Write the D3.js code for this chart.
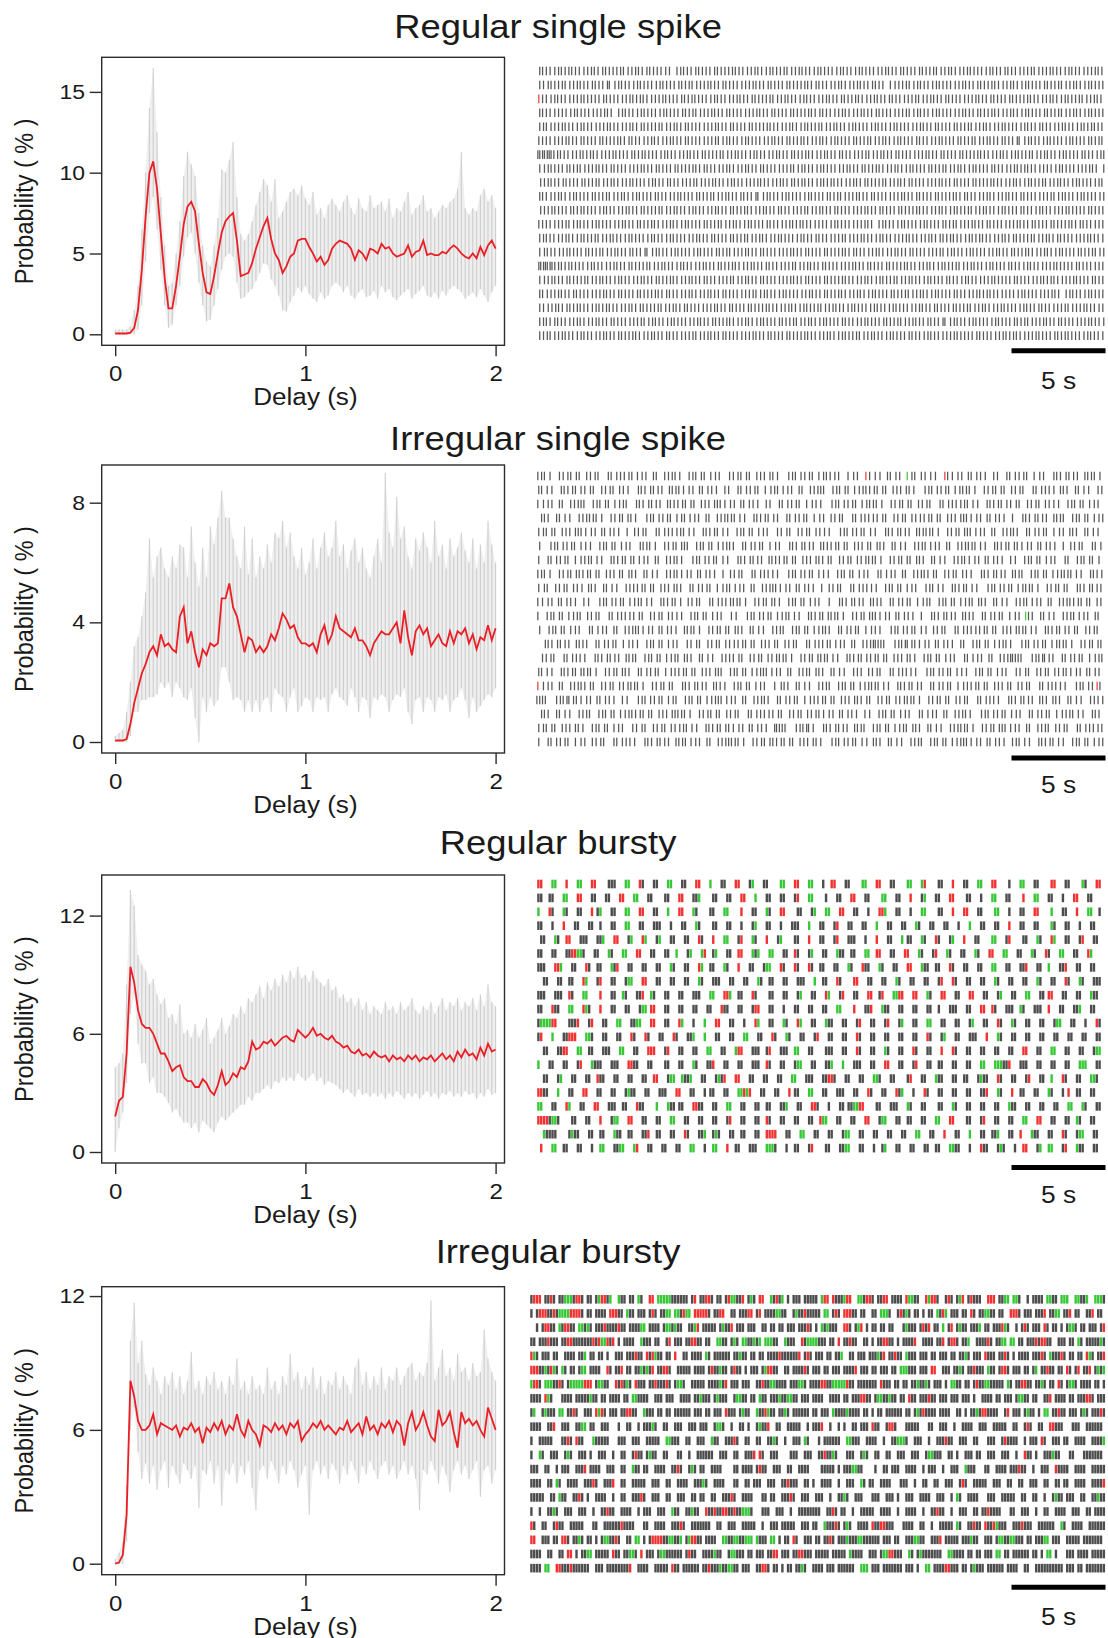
<!DOCTYPE html>
<html>
<head>
<meta charset="utf-8">
<script src="https://cdnjs.cloudflare.com/ajax/libs/d3/7.8.5/d3.min.js"></script>
<style>
  body { margin: 0; background: #fff; }
  svg text { font-family: "Liberation Sans", Arial, sans-serif; fill: #1a1a1a; }
</style>
</head>
<body>
<script>
// ---------------- data ----------------
var titles = ["Regular single spike", "Irregular single spike", "Regular bursty", "Irregular bursty"];
var delayStep = 0.02;              // s between histogram points (0 .. 2 s)
var xTickValues = [0, 1, 2];
var yTickValues = [[0, 5, 10, 15], [0, 4, 8], [0, 6, 12], [0, 6, 12]];

// mean autocorrelogram (red), %
var meanRegSingle = [
  0.05,0.05,0.05,0.05,0.1,0.4,1.5,4.0,7.3,10.0,
  10.7,9.0,6.2,3.5,1.6,1.6,3.0,4.8,6.8,7.9,
  8.2,7.6,5.6,3.8,2.6,2.5,3.6,5.0,6.3,7.0,
  7.3,7.5,5.8,3.6,3.7,3.8,4.4,5.3,6.0,6.7,
  7.2,5.9,5.0,4.6,3.8,4.2,4.8,5.0,5.8,5.9,
  5.9,5.4,5.0,4.5,4.8,4.3,4.6,5.3,5.6,5.8,
  5.7,5.6,5.3,4.6,5.2,5.0,4.6,5.3,5.2,5.0,
  5.6,5.3,5.4,5.0,4.8,4.9,5.0,5.5,4.8,5.1,
  5.2,5.8,4.9,5.0,4.9,4.9,5.1,5.0,5.3,5.5,
  5.3,5.0,4.8,4.7,5.0,4.7,5.4,4.9,5.5,5.8,
  5.3];
var meanIrrSingle = [
  0.05,0.05,0.05,0.1,0.6,1.3,1.8,2.3,2.6,3.0,
  3.2,2.9,3.6,3.2,3.3,3.1,3.0,4.2,4.5,3.3,
  3.7,3.0,2.5,3.1,2.9,3.3,3.2,3.3,4.8,4.8,
  5.3,4.5,4.2,3.6,3.0,3.5,3.4,3.0,3.2,3.0,
  3.2,3.6,3.4,3.8,4.3,4.1,3.8,3.9,3.5,3.3,
  3.3,3.2,3.3,3.0,3.6,3.9,3.3,3.6,4.2,3.8,
  3.7,3.6,3.5,3.8,3.4,3.4,3.2,2.9,3.3,3.5,
  3.7,3.6,3.6,3.8,4.0,3.3,4.4,3.5,2.9,3.7,
  3.9,3.6,3.8,3.2,3.4,3.6,3.3,3.2,3.7,3.3,
  3.7,3.6,3.8,3.3,3.6,3.1,3.5,3.4,3.9,3.4,
  3.8];
var meanRegBursty = [
  1.8,2.6,2.8,5.0,9.4,8.6,7.2,6.5,6.3,6.3,
  6.0,5.5,5.0,5.0,4.6,4.1,4.3,4.4,3.8,3.6,
  3.6,3.3,3.3,3.7,3.5,3.1,2.9,3.4,4.1,3.4,
  3.6,4.0,3.8,4.3,4.2,4.6,5.6,5.2,5.3,5.6,
  5.5,5.7,5.4,5.6,5.8,5.9,5.7,5.6,6.2,6.0,
  5.8,6.0,6.3,5.9,6.0,5.8,5.7,5.9,5.6,5.5,
  5.3,5.4,5.1,5.0,5.2,4.9,5.0,4.8,5.1,4.9,
  4.8,4.9,4.6,4.9,4.7,4.8,4.6,4.9,4.7,4.9,
  4.6,4.8,4.7,4.9,4.6,4.8,5.0,4.7,4.9,4.6,
  5.1,4.8,5.2,4.9,5.0,4.7,5.3,4.9,5.5,5.1,
  5.2];
var meanIrrBursty = [
  0.0,0.05,0.4,2.2,8.2,7.5,6.4,6.0,6.0,6.2,
  6.7,5.8,6.3,6.2,6.1,6.0,6.2,5.7,6.1,6.0,
  6.3,5.9,6.1,5.4,6.1,5.9,6.3,6.0,6.4,5.8,
  6.2,6.0,6.7,6.0,5.7,6.4,6.0,5.8,5.3,6.2,
  6.1,5.9,6.3,6.0,6.2,5.8,6.3,6.1,6.4,5.5,
  5.8,6.0,6.3,6.1,6.4,6.0,6.2,6.0,5.8,6.1,
  6.0,6.4,5.9,6.1,6.3,5.8,6.6,6.0,6.2,5.8,
  6.3,6.1,6.4,5.9,6.4,6.2,5.3,6.3,6.8,6.0,
  6.3,6.8,6.2,5.7,5.5,6.9,6.2,6.4,6.8,5.9,
  5.2,6.8,6.3,6.5,6.2,6.4,6.0,5.7,7.0,6.5,
  6.0];

// spread of single-cell curves (grey), upper and lower edge, %
var hiRegSingle = [
  0.3,0.3,0.3,0.3,0.5,1.5,3.0,6.5,10.0,14.0,
  16.5,12.5,8.5,5.5,3.0,3.2,5.0,7.0,9.8,11.3,
  10.5,9.8,7.5,5.5,4.5,4.2,5.5,7.2,10.2,10.0,
  10.8,11.9,8.5,6.2,5.8,6.2,7.0,8.0,8.8,9.6,
  9.2,8.2,9.6,7.2,7.6,8.2,8.8,9.0,8.6,9.2,
  8.4,8.0,8.8,7.4,7.8,7.2,8.0,8.4,8.0,7.6,
  8.2,8.6,7.8,7.4,8.4,7.8,7.6,8.6,7.8,8.0,
  8.2,7.6,8.4,7.2,7.8,7.6,8.2,8.8,7.4,7.8,
  8.0,8.6,7.6,7.8,7.2,7.6,8.0,7.8,8.2,8.4,
  9.0,11.3,7.8,7.4,7.8,7.6,8.6,9.0,8.2,8.6,
  7.8];
var loRegSingle = [
  0,0,0,0,0,0,0.3,1.8,4.5,7.5,
  8.5,6.5,4.0,1.8,0.4,0.6,1.8,3.0,4.8,6.0,
  6.3,5.0,3.2,1.8,0.8,0.9,1.8,2.8,4.0,4.8,
  5.0,4.8,3.2,2.2,2.3,2.6,2.8,3.3,3.8,4.4,
  4.3,3.4,3.0,2.4,1.5,1.4,2.0,2.4,2.9,2.6,
  3.0,2.5,2.2,2.0,2.6,2.2,2.4,3.0,3.2,3.0,
  2.6,3.0,2.4,2.2,2.6,2.8,2.3,2.4,2.7,2.2,
  3.0,2.6,2.8,2.3,2.1,2.4,2.6,2.8,2.2,2.5,
  2.7,3.0,2.4,2.3,2.6,2.2,2.7,2.4,2.8,3.0,
  2.8,2.6,2.2,2.4,2.6,2.3,2.8,2.4,2.0,2.6,
  3.0];
var hiIrrSingle = [
  0.2,0.3,0.4,1.0,2.0,3.2,3.5,4.2,5.0,6.8,
  5.5,6.2,6.5,5.8,5.5,6.2,5.8,6.6,6.5,5.5,
  7.2,6.0,5.2,6.5,5.5,7.2,6.6,7.5,8.4,7.5,
  7.5,6.8,6.2,5.8,7.2,5.6,6.8,5.5,6.2,5.8,
  6.6,6.0,7.0,6.8,7.4,6.5,7.0,6.2,5.8,6.5,
  5.6,6.0,6.8,5.8,6.5,7.0,6.2,6.5,7.4,6.2,
  6.6,5.8,6.4,6.8,6.0,6.5,5.8,5.5,6.2,6.8,
  6.0,9.0,7.0,6.5,8.2,6.8,7.2,6.2,5.8,6.8,
  6.4,7.0,6.5,6.0,7.4,6.2,6.6,5.8,6.8,6.2,
  6.5,7.0,6.4,6.0,6.8,5.8,6.6,6.0,7.4,6.6,
  6.0];
var loIrrSingle = [
  0,0,0,0,0.2,1.0,1.0,1.4,1.4,1.5,
  1.5,1.6,2.0,1.8,2.0,1.5,2.0,1.8,1.5,1.4,
  1.8,0.8,0.0,1.5,1.0,1.5,1.2,1.4,2.5,2.5,
  2.0,1.4,1.5,1.4,1.0,1.4,1.0,1.4,1.0,1.4,
  1.5,1.0,1.8,1.6,1.5,1.0,1.5,1.8,1.0,1.2,
  1.5,1.4,1.0,1.5,1.4,1.5,1.0,1.6,1.8,1.5,
  1.4,1.2,1.8,1.5,1.0,1.5,1.4,0.8,1.5,1.4,
  1.6,1.5,1.0,1.4,1.6,1.5,1.8,1.0,0.6,1.4,
  1.5,1.0,1.5,1.4,1.0,1.5,1.4,1.6,1.0,1.4,
  1.5,1.8,1.4,0.8,1.5,1.0,1.2,1.4,1.6,1.5,
  1.8];
var hiRegBursty = [
  4.3,4.5,5.0,8.5,13.3,12.5,10.0,9.5,9.2,8.5,
  8.8,8.0,7.5,7.8,6.8,7.0,6.5,7.5,6.0,6.2,
  5.8,6.5,5.8,6.2,6.8,5.5,5.8,6.2,6.8,6.0,
  6.4,7.0,6.8,7.4,7.0,7.8,7.6,8.0,8.4,7.8,
  8.6,8.2,8.8,8.4,9.0,8.6,9.2,8.8,9.4,8.8,
  9.0,8.6,9.2,8.8,8.6,8.4,8.8,8.2,8.4,7.8,
  8.0,7.6,7.8,7.4,7.8,7.2,7.6,7.0,7.4,7.2,
  7.0,7.6,7.2,7.4,7.0,7.6,7.2,7.4,7.8,7.2,
  7.0,7.4,7.2,7.6,7.0,7.4,7.8,7.2,7.6,7.4,
  7.8,7.2,7.6,7.4,7.8,7.2,8.0,7.4,8.5,7.6,
  7.4];
var loRegBursty = [
  0,1.2,2.0,3.5,7.0,8.0,5.5,4.5,4.5,3.5,
  3.8,3.0,3.0,2.8,2.5,2.0,2.2,1.8,1.5,1.5,
  1.2,1.5,1.0,1.6,1.4,1.2,1.0,1.5,1.8,1.6,
  1.8,2.0,2.2,2.4,2.4,2.8,2.6,3.0,3.0,3.2,
  3.4,3.2,3.6,3.5,3.8,3.6,3.8,3.6,4.0,3.8,
  3.6,3.8,4.0,3.6,3.8,3.4,3.6,3.5,3.4,3.2,
  3.0,3.2,3.0,2.8,3.2,2.9,3.0,2.8,3.0,2.8,
  3.0,2.7,3.0,2.8,3.1,2.9,2.7,3.0,2.8,3.0,
  2.7,2.9,3.1,2.8,3.0,2.7,3.0,2.9,3.1,2.8,
  3.0,2.8,3.1,2.9,3.0,2.7,3.0,2.8,3.2,2.9,
  3.0];
var hiIrrBursty = [
  0.2,0.5,1.0,3.5,10.0,11.7,9.0,10.0,8.5,8.0,
  8.8,8.2,7.6,8.4,8.0,8.6,7.8,8.4,7.6,8.2,
  9.5,7.8,8.2,7.6,8.4,8.0,8.6,7.8,8.2,7.6,
  8.4,8.0,9.2,7.8,8.2,7.6,8.4,7.8,8.0,7.6,
  8.8,7.8,8.2,7.6,8.4,8.0,9.4,8.2,8.6,7.8,
  8.4,8.0,8.8,7.8,8.4,7.6,8.2,8.0,8.6,7.8,
  8.4,8.0,7.6,8.8,9.2,8.0,8.6,7.8,8.4,8.0,
  8.8,7.8,8.4,8.2,8.8,8.0,8.4,8.8,9.0,8.2,
  8.6,8.4,9.0,11.8,8.2,8.8,9.6,8.4,8.8,8.2,
  9.4,8.6,8.8,8.2,9.0,8.4,8.6,10.5,9.2,8.6,
  8.2];
var loIrrBursty = [
  0,0,0,1.0,6.0,7.0,5.0,3.8,4.5,3.6,
  4.4,3.3,4.2,4.6,3.4,4.4,4.0,3.6,4.5,4.2,
  3.8,4.4,2.5,4.2,4.0,4.6,3.6,4.4,2.6,4.2,
  4.0,4.5,3.6,4.4,4.0,4.6,3.4,2.4,4.2,4.4,
  3.8,4.6,4.2,3.6,4.4,4.0,4.6,4.2,3.4,4.0,
  4.4,2.2,4.2,4.6,4.0,4.4,3.8,4.5,4.2,3.6,
  4.4,4.0,4.6,4.2,3.6,4.4,4.0,4.6,4.2,3.8,
  4.4,4.6,4.0,4.4,3.8,4.2,4.6,4.0,4.4,3.8,
  2.4,4.2,4.0,4.6,4.2,3.6,4.4,4.0,3.2,4.2,
  4.6,4.0,4.4,3.8,4.2,4.6,3.0,4.2,4.4,3.6,
  4.2];

// rasters of single spikes: inter-spike intervals in hex digits of 0.05 s; r / g colours the spike before it
var isiUnit = 0.05;
var rasterRegSingle = [
  "4344543443 4454434534 4443544345 3444548434 4534445344 4434454434 5434443544 3445434445 4344543444 5443445344 4534443544 3454434445 4344534454 4435444344 5434454443 4454434534",
  "4453444354 4344534452 6434454344 4543444534 4354443445 3444544434 4534445344 4434534454 4345443445 3448544435 4344543444 5443445344 4345443454 3444534443 5443454344 4534454434",
  "3r445434454 4434444534 4454434434 5444344453 4434445434 4544344534 4443544344 5434454434 4534443454 4344534454 4435443445 3444544434 4534445344 4434454434 5434443544 3445434445",
  "4344544454 3444544434 8434454344 4543444534 4354443445 3444544434 4534445344 4434534454 4345443445 3444544435 4344543444 5443445344 4345443454 3444534443 5443454344 4534454434",
  "4435444344 5434454443 4454434534 4443544345 3444544434 4534445344 4434454434 5434443544 3445434445 4344543444 5443445344 4534443544 3454434445 4344534454 4344543443 4454434534",
  "3444544434 4534445344 4434534454 4345443445 3444544435 4344543444 5443445344 4345443454 3444534443 5443454344 4534454434 4453444354 4344534452 6434454344 4543444534 4354443445",
  "2232322343 4454434434 5444344453 4434445434 4544344534 4443544344 5434454434 4534443454 4344534454 4435443445 3444544434 4534445344 4434454434 5434443544 3445434445 3445434454",
  "4543444534 4354443445 3444544434 4534445344 4434534454 4345443445 3444544435 4344543444 5443445344 4345443454 3444534443 5443454344 4534454434 4344544454 3444544434 8434454344",
  "5443445344 4534443544 3454434445 4344534454 4435444344 5434454443 4454434534 4344543443 4454434534 4443544345 3444544434 4534445344 4434454434 5434443544 3445434445 4344543444",
  "4345443454 3444534443 5443454344 4534454434 4453444354 4344534452 6434454344 4543444534 4354443445 3444544434 4534445344 4434534454 4345443445 3444544435 4344543444 5443445344",
  "5444344453 4434445434 4544344534 4443544344 5434454434 4534443454 4344534454 4435443445 3444544434 4534445344 4434454434 5434443544 3445434445 3445434454 4434444534 4454434434",
  "3444544435 4344543444 5443445344 4345443454 3444534443 5443454344 4534454434 4344544454 3444544434 8434454344 4543444534 4354443445 3444544434 4534445344 4434534454 4345443445",
  "4434454434 5434443544 3445434445 4344543444 5443445344 4534443544 3454434445 4344534454 4435444344 5434454443 4454434534 4344543443 4454434534 4443544345 3444544434 4534445344",
  "4534454434 4453444354 4344534452 6434454344 4543444534 4354443445 3444544434 4534445344 4434534454 4345443445 3444544435 4344543444 5443445344 4345443454 3444534443 5443454344",
  "3232232343 4434445434 4544344534 4443544344 5434454434 4534443454 4344534454 4435443445 3444544434 4534445344 4434454434 5434443544 3445434445 3445434454 4434444534 4454434434",
  "4544344534 4443544344 5434454434 4534443454 4344534454 4435443445 3444544434 4534445344 4434454434 5434443544 3445434445 3445434454 4434444534 4454434434 5444344453 4434445434",
  "4354443445 3444544434 4534445344 4434534454 4345443445 3444544435 4344543444 5443445344 4345443454 3444534443 5443454344 4534454434 4344544454 3444544434 8434454344 4543444534",
  "4454434534 4344543443 4454434534 4443544345 3444544434 4534445344 4434454434 5434443544 3445434445 4344543444 5443445344 4534443544 3454434445 4344534454 4435444344 5434454443",
  "4434534454 4345443445 3444544435 4344543444 5443445344 4345443454 3444534443 5443454344 4534454434 4453444354 4344534452 6434454344 4543444534 4354443445 3444544434 4534445344",
  "4443544344 5434454434 4534443454 4344534454 4435443445 3444544434 4534445344 4434454434 5434443544 3445434445 3445434454 4434444534 4454434434 5444344453 4434445434 4544344534"
];
var rasterIrrSingle = [
  "3436a45363 8453b36445 3654839443 5a4363754b 4536384463 5c43645375 3454a649r4 6583648g53 7465ar 3564736459 4a36453864 b346354834 3645",
  "4365a34536 4639453745 b346354834 3564736459 4a36453864 3654839443 3a43637543 4536384463 5c43645375 3436a45363 8453b36445 7349365a44 5a4363754b",
  "3654839443 3a43637543 b346354834 4536384463 3564736459 4a36453864 5c43645375 3436a45363 8453b36445 4365a34536 4639453745 5a4363754b 2333c43425",
  "7349365a44 3436a45363 5c43645375 3654839443 4365a34536 4a36453864 8453b36445 4639453745 4536384463 3564736459 b346354834 3a43637543 5a4363754b",
  "4536384463 3564736459 8453b36445 4365a34536 5a4363754b 4639453745 5c43645375 b346354834 3436a45363 3654839443 4a36453864 7349365a44 3a43637543",
  "5c43645375 5a4363754b 3436a45363 3a43637543 4a36453864 b346354834 4536384463 7349365a44 3654839443 4365a34536 3564736459 8453b36445 4639453745",
  "4a36453864 4365a34536 3654839443 5c43645375 b346354834 4536384463 4639453745 3436a45363 7349365a44 3564736459 5a4363754b 3a43637543 8453b36445",
  "3436a45363 4536384463 7349365a44 3564736459 8453b36445 5c43645375 5a4363754b 3654839443 4639453745 b346354834 3a43637543 4365a34536 4a36453864",
  "4639453745 7349365a44 4536384463 4a36453864 3654839443 3564736459 8453b36445 5a4363754b 4365a34536 5c43645375 3436a45363 b346354834 3a43637543",
  "3564736459 5c43645375 4365a34536 8453b36445 3436a45363 5a4363754b b346354834 4a36453864 3a43637543 7349365a44 3654839443 4536384463 2333c43425",
  "3a43637543 8453b36445 4639453745 5a4363754b 5c43645375 4365a34536 3436a45363 3564736459 b346354834 4a36453864 7g349365a44 3654839443 4536384463",
  "5a4363754b 3654839443 3564736459 3436a45363 7349365a44 3a43637543 4a36453864 5c43645375 8453b36445 4536384463 4365a34536 4639453745 b346354834",
  "b346354834 4a36453864 5a4363754b 4639453745 4536384463 8453b36445 3654839443 2333c43425 3564736459 3a43637543 5c43645375 3436a45363 7349365a44",
  "8453b36445 b346354834 3a43637543 7349365a44 4639453745 3436a45363 4365a34536 4536384463 5a4363754b 3654839443 2333c43425 4a36453864 3564736459",
  "4365a34536 3436a45363 4a36453864 4536384463 3a43637543 3654839443 7349365a44 8453b36445 5c43645375 5a4363754b 4639453745 3564736459 b346354834",
  "3r654839443 4639453745 3436a45363 b346354834 5a4363754b 7349365a44 3a43637543 4365a34536 4a36453864 4536384463 8453b36445 5c43645r375 3564736459",
  "2333c43425 3564736459 5c43645375 3a43637543 3654839443 4a36453864 4536384463 4639453745 3436a45363 8453b36445 b346354834 7349365a44 5a4363754b",
  "7349365a44 3a43637543 4536384463 3436a45363 8453b36445 4639453745 3564736459 5a4363754b 3654839443 5c43645375 4a36453864 4365a34536 b346354834",
  "4536384463 5a4363754b 4639453745 4365a34536 3564736459 2333c43425 b346354834 3a43637543 7349365a44 3436a45363 3654839443 8453b36445 4a36453864",
  "4a36453864 8453b36445 b346354834 3654839443 3436a45363 4536384463 5c43645375 7349365a44 3a43637543 3564736459 4365a34536 5a4363754b 4639453745"
];

// rasters of bursts: one character per 0.15 s bin; . empty, k black, r red, g green
var binWidth = 0.15;
var rasterRegBursty = [
  "rr...gg... r...gg...r r....kkk.. .gg...rk.. .kk...gg.. .kk...rr.. .g...kk... rr...kg... kk....gg.. .rr...gg.. .k..rr...k k....gg... rr...kk... .gg...gr.. ..kk...r.. .kk...gg.. .rr....k.. .gg...kk.. ..rr...kk. ...gk...rr",
  "kk..kk...g g...rr...k k...kk...r r...gg...k k....kk... rr...kkg.. ..kk...kk. ..rr...g.. .kk...kk.. .kr...gg.. ..k...kk.. .rr...kk.. ..gg...kk. ..r...kg.. .kk...rr.. ..kk...k.. .gg...kk.. ..r...gg.. .kk...k... rr...kk...",
  "g...rk...g k...kk...r .kg...kk.. .gg...rr.. .kk...g... rr...gk... .kk...gg.. ..r...kk.. .gk...rr.. ..kk...kg. ..gg...rr. ..kk...k.. .rrg...kk. ..k...gg.. ..kk...r.. .rr...kk.. ..gg...k.. .kk...rr.. ..g...kk.. .r...gg..k",
  "kk...k...r ...kk...kk ..k...kk.. .gg...kk.. .kkk...k.. .kk...gk.. ..kk...kk. ..k...kg.. .kk...k... kkk...g... kk...kr... kk...kk... g...kk...k k...gk...k k...kk...k ...g...kk. ..kk...r.. .kk...kk.. ..gk...kk. ..k...kk..",
  ".kk...gk.. rr...kkk.. .kkg...rr. ..kg...rg. ..kg...kk. ..kk...rk. ..r...gg.. .kr...gk.. .r...kg... .kk...r... kk...kr... kkk...k... r...kk...g .kk...gk.. .rk...kg.. .r...kk... .gg...kr.. ..kk...gk. ..rg...kk. ..kr...kk.",
  "kk...kk... kkrrggk... kk...gk... gg...rr... kk...kk..g ...kg...gr ..kg...kk. .rr...gkg. ..gg...kk. .rk...kg.. .kk...gkk. .kk...gg.. rr...kk... rr...gk... kr...gk... kk...gk... rr...gg... kk...gk... rk...gg... kk...rg...",
  "kkk...rrg. ..kk...rk. .kk...gkr. ..kk...kk. ..kk...gk. ..kk...rg. .kk...gk.. .r...kk... kgg...rk.. .rk...rk.. kk...kk... gk...rkk.. .gk...kk.. .rr...gkk. .kk...rk.. .kk...kk.. .gg...kk.. .kkr...kk. .g...kkr.. .kk...kk..",
  "..kk...kk. .kk...rg.. .kr...kk.. .kgg...rr. ..kk...kk. ..kk...gk. ..kkk...kk ...kk...gk ..kk...kk. ..kkk...g. .kk...rk.. ..rr...kk. ..kk...gk. ..kk...kk. ..kr...rk. ..kk...kk. ..gk...kk. ..kk...gk. ..kk...rk. ..gk...kkk",
  "kkk...kkk. .rk...gg.. ..r...kk.. gk...kkr.. gk...kk... kk...kkk.. .gg...rrg. .kk...rk.. ..kk...kk. ..kg...kk. ..rg...kr. ..kk...rr. .kr...ggrr ...rr...gk ...rr...kk ...rr...kk ...kg...kk ...gg...kk .rr...kk.. .kk...gkk.",
  "kk...rkk.. .gg...rgk. ..r...kk.. .kk...kgg. rr...kk... kk...kk... kk...rkk.. .kk...krr. ..kk...k.. .kk...kk.. .kk...gg.. ..r...kkr. ..gkk...kk ...kk...kk ..k...kkk. ..kk...rr. .rk...kkk. .gk...kkk. .r...kk... kkg...kk..",
  "kggggrr... .kkkr...kr ...kk...gg ...kkgg... rr...kk... rg...k...g ...rr...kk ...k...rg. ..kk...gk. ..rg...kk. ..gkk...kk ...kr...kk ...kr...kg ...kk...gg ...kk...kk ...kg...kk ...rk...gk ...kk...kk ...kgg...kk ...k...rk.",
  "kr...g...k krrr...ggk ...kk...kk ...rk...rk ...kk...rk ...kkg...g ...kk...kk ...gg...kk ...rk...gk ...kk...kr ...kk...kk ...rk...kk ...kk...kk ...kk...rk ...kg...kk ...kkk...r ...gk...kk ...kk...kk ...kk...kk ...kk...kk",
  "..kk...kkr r...gg..kk ...kkk...g g...kk...r rr...kr... kk...kk... gg...kk... grr...kkk. .kr...kkk. .gg...kk.. ..kkk...kk ...rk...kk ...gk...kk ...rk...kk ...r...rk. ..kk...kk. ..kk...kk. ..rr...kk. ..gg...kk. ..kk...kgg",
  "g...kk...k k...kr...g kkk...kkk. ..rrkk...k k....kk... kk...gk... kkr...kk.. .kk...kkk. .rk...kk.. .kgg...kk. ..kkg...g. ..kkk...kk ...rr...kk ...kr...kk ..kk...kk. ..kk...gg. ..gggkkr.. .kkk...kk. ..kk...kk. ..ggg...kk",
  "..kk...kg. ..kk...kk. .rkk...kk. ..kk...kk. .rr...kgg. .gkkg...kk ...kgkr... rr...kk... kk...kk... gg...kkk.. .kkrrk...k k...kk...g gk...kk... .kr...kk.. .gkk...kk. .kk...kgkk ...rk...kk ...kr...kk ..g...rk.. .kk...ggk.",
  "rrkk...g.. .kk...rr.. .kk...kk.. .kgkk...kk ...kkk...r r...kk...k .kk...kk.. .ggrgr...k k...kk...r .kk...gg.. .kk...kkk. ..kk...rk. ..kk...rkg ...k...rk. ..kk...kk. ..kk...kkr ...gk...r. .kk...kk.. .gk...k.r. .kk...kk..",
  "gg...kk... rg...kk... rr...kkk.. kk...rkk.. ..g...gkk. kk...rrkk. ..kk...gg. ..kk...kk. .kk...kkg. ..kk...rrk ...k...kk. kkggrr.... kk...kkk.. .gk...kk.. ..kk...gk. ..kk...kk. ..kk...gkk ...kk...kk ...kk...gg ...gk...kk",
  "rrrrkggk.. ..kk...kk. ..r...kgg. ..rr...kk. ..kk...gg. ..kk...kk. ..kk...kr. ..kk...kk. .rk...kk.. .kk...kk.. rgg...kk.. .kk...rr.. .kgg...kk. .kk...kk.. .gg...rr.. ..kk...kr. ..kk...kk. ..gg...rr. ..kk...kk. .gk...kk..",
  "..gkkkk... .kgkk...kk ..kk...gkk ..kk...kkr ..kk...kk. ..rk...kkg ..kgk...kk ..kk...kk. .rrrr...kk ...gg...kk ...kk...kg g...kk...k k...kk...k k...gg...k k...r...kk ...g...kk. .kkg...kk. .r...gkk.. .kk...rk.. .kgg...kk.",
  ".r...gg..k k...kk...k ..gg...kkg g...gr...k k...kk...k k...gg...k ..gg...r.. kk...kkk.. .gggk...k. .kk...kr.. ..kk...kkg g...kk...k ..kg...kk. ..kk...kk. .kk...ggkk ...k...rkk ...kgk...k ..rr...kg. .gg...kr.. .gkk...kk."
];
var rasterIrrBursty = [
  "krrr.kkrk. kkgggkrrk. kk.kgrrkg. .gkk.kk.gk ..rr.ggggg kkkkkk.kr. kkrrk.kk.k rggkkr.kgk .rr..gkrkg .k.kkk.kkk kk.grr.rkk kgrr..ggkr rk.kkrr.kk kk.rggkk.. rgrrk..krk .kgr.krkkk ..rrr.kkgg .ggk..k.kk kk.ggkk.gg g..ggkkg.. gggk",
  "k.krrrkkrk ggggrrrrk. kk.kkkk.rr rkk.gkk.kk k.krk.kkgg .ggkrgg.rr rrrk.kkrr. .kk.kkkrr. kr.kkkkggk k..kgkkrkk kkk.gg.krk .rrrkk.kk. .kk.gggk.. krkgk.kk.k .kk.gkrg.k kk.kk.rk.k kggkk.kk.. rrrk.kkk.k kkr.kkgg.k kr.kk..kkr .kk.",
  "..k.krrkk. gkrrkk.ggk gk.kkkrkkk krkk.kkkkg g.kkkk.kgg kgkk..kkgr .kkkkk.kgk kr.kkk.kkk ..kk.kk.kk .kkk.kkkrk .k.gkgkkk. .rrk.kgr.k .kk.kk.kk. ..kgkkk.kr kr.kk.g.kr .kgkk.kkkg .kk.kkkrgk ..k.krk.kk k.rk.kk.k. kggk.kk.kk k.kr",
  "kk.kkkrkkk .kkrrkkkkk kkrkrggrkr .k.kkkk..g kkk.kk..kr .kkk.kkrrk k.kk..ggkk .kgk.ggkkg kg.gggkk.. gkkk..rkgg ggkkk.kk.r .kkrkk..kk .k.kkrrkk. k.kkkkr..k kkk.kkr.kr rk.kkg..kk kkrk.kkgg. gg.kk.kkkr krrkk..kkk .kk.gk.kkk kkgk",
  "rgk.kkk.kk ..kkkk.kkg .kk.kk.k.. kkk.kkkrkk .rkrgkk.kk .r..kk.kkk k.gk.kkkkk k.kkgkk.kk .kk.kkkkrk kkkkkr.krk .kkk.kk.kk g..kk.kkk. kkkgkr.kkr kk.gkkk.kk k.kk.kkk.k k.kkgk.kkk .rkkk.kkrk .k.kkkk.kk krk.gkkkrk .kk.kk.rgk .kkr",
  "rrrkkgkrgk .gk.kk.kgg .kkkk..rk. kkr.kk.kkg kgkr.kkrrk ..kkkkk.kk kk.krkkgkk .krkk.k.kk k.kgrrkk.. kk.kkkkrk. kkk.kk.kkk .kkkkr.kkk .kk.kkk.kk .gggkkk.kk k.rr..kkk. kkgk.kkrkk k.gkk.krrk .kkk.kk.kg .kkrkk.kk. rk.kr.kkr. kgkg",
  "grrk.gggkk rk.kgggggr rr.kggkk.. rkrkgk.rkk k.kkrkkkrk .kggk..kkk kk.kkkkgkr .kkk.kkk.. kkrkkggkkk k.kkkggk.k kkkrrkkggg ggrkk.kkkk kkk.rkkk.k k.kk.kkgkk gk.kkk.k.g gkk.kk.krk kggkkkkk.g k.kkrrkk.k kgk.kk.rk. kggk.kkkk. kk.k",
  "kkkk.rgk.. .kkkk.kkkk kgkk.kk.kk kk.kk.ggkk kk..kkk.kk k..kkkk.kk gkkk.kgkkk ..kggkk.kk .gkk.kkkgk kggkk.kkk. kkkk..kkkk .kk.kkkrrk k.kggkkgkk .kk.rkk.kk krkk.kkk.k kk.kkk.k.. kkkk.kk.kk k.kggkk.kk ..kkr.kkkk .kk.kkkrrk .kkk",
  "kg..kgkkk. gg.kkrk..k kk.rgrk.kk k.kkrrkk.. gkkk.kk.kk .kkkkkk.kk k.kk.kkk.r kkk.kgkk.. gkkrgkk.kk gk.kkkkkk. kk.kkk.gkk kkgkkkk.kk .k.kk.kkkk kk.kk.kgkr kkkk.kkkk. .kk.k.kkgk rrkkkk..kr .kkk.kgkk. k.gg.kkrkk .kkk.kgk.k kkrk",
  "kkkk..kkr. .kkk..kkgg .kk..kkk.. .k..kk..k. kkkgk..kk. .kkk..kkk. kkk..kggk. .k..kk.k.. kgkkr..kk. .kkkkk..k. kkkr..k..k .k..kk.kkk .rkk..krrk ...kkkkk.. .kk..kkk.. k..kkkk..k kk..kkkkk. .kk..krk.. kk..rrkkk. ..kkk..kkk kkk.",
  "k..kkkkk.. .kkrk.rkk. ..gkkkkk.. .kkk..kkk. .kkkkk..gg kkk..kk..k kk..gkk..k kkrk..kk.. kk..kkgk.. k..kkk.gk. ..k.kkkkkk ..ggkkk..k kkk..k..kk gggk..kkk. .k..kkkrkk ..kkk..kk. ..kkk..krk kkk..k.kkk .rk..kkk.k k..kkkk..k kkkg",
  "k..gk..kkk ..kgk..kkk .k..kkk..k ..kk..krkk .kgkk..kk. ..kk..k..k kkkkk..kkk ..kk..kkkr .rk..kkk.. ..kkk..kkk ..kkrkkgk. ..kkk..kgk ..kk..kk.. kkk..kkk.. kggkkk..kk .k..kkk.kk ..kkk..kkk ..k..rkk.k ..kkkgkk.. .kk...kkkk kkk.",
  "kkk..kk..k .kkk..kkkr .kkkk..kkk ..kk..gkk. kk..kkkk.. kkrk..kgk. kk..kkkk.. ..kk.kkkk. krkk..kkk. .kk..kkkk. ...kkkkk.k .kkkggkk.. ..k..kk.kk k..kkkk..k .kkk..k..k kk..gkkk.. .kk..kkkk. kkkrkk..k. .kkk..rkkk k..kkkk..k kkkk",
  "kkkk..kk.g k..kkkk..k kkrk..kkkr ..kk..kkkk k..kkk..kk ..kkkk..kk kgk..kkkk. ..kk..kk.k kk..kkk..k krkkk..kk. k..kkkk..k ..kkk..gk. kk..kkkk.. .kkk..k..k k..kk..kkk ..krk..kkk kk..kkk..k k..kk..kkk ..kk..kk.k k..kkkk..k kkkr",
  "kkkkk..kk. gkk..kkrk. k..kkkk..k ..kk..kkkr k..kkk..kk ..kkk..kk. kk..kk..kk krk..kkkk. ..kk.kk..k kkrk..kkk. .kkk..k..k kgk..kkk.. .kkk..kkk. k..kkk..kk kk..kkk..k .gk..kkkk. ..kkk..kkk kk..kk..kk ..k..kgkk. kkk..kk..k kgkk",
  "k..k..kkgk ..kkk..kkk ..k..kkrkk ..kkkk..k. kkk..kkk.. gkk..kkgkk ..rkkrkkrr kkrkkgggk. ..kkk..kkk ..k..kkkkk kkk..kkrk. kk..k..kkk kk..kkkk.. k..kkkk..k ..kkrkk..k ..kkk..kk. kkrkkkk... kk..kkk..k ..kk..kkkk ..kkk..kk. kkkk",
  "rk..kk..kr kk..kkkkk. ..kk..kkkk kkrkkkk... kk..kkkk.. kkkrk..kkk kkkk..kk.. kkk..kkkkk ..k..kkk.k kkkk..kkk. kk..gkkkrk .kgk..kkkk .rkkrrkkk. ..kkkk..kk ..k..kkkkk .gk..kkrkk .rkkrgkkk. .kkkrkkk.. kkkkkk..gk ..kkkk..kk kkkk",
  "rr..kkk.kk .rrk.kkgk. kk.k.kggkk rk..kk.gg. k.krrrrkkg gkkg.kgrrk k.kkkk..gg kkggkkggg. gkkk.gg.k. kk.rk..kkk .kk.kkrk.k kkgkkkggkk kkkk.kkk.k k..kkkggkk ..kkkr.kkk kk.kkkgkk. .kkk.kggkk ggkkk.kk.k kkgg.kkk.. kkkkk.kkkk kkk.",
  "kkkk..kk.. kk.rr.k.kk gg.kkkkk.r kk.kkggk.r .kkk.kggkk kkkk.krkk. .kkkkgkk.. kggkkk.kk. kkk.kkrr.k kk.kkrrkkk .kkkkk.kkk kk.gkkkk.. kkk.kggrrk kk..gk.kgk kkkkkk..gg kkkk.kk.kk .kkk.gg.kk .kkkkkk.kk .k.gg.k... kkk.kkkk.k kkkk",
  "kkkk.gg..r rkkkrkkkkk k..kkk.kkk kkkkkr..kk kk..kkkkk. rkk.kkkkkk .kkrkkkgkk ggkk.kkk.. kkrrk.kk.k .kk.kkgk.. kkkk.kkk.k kkkkk..ggg .kkk.kkkkk kk.kkk.k.. gg.kkkkrrk kk.kk.kgkk k.kkkkkk.k kkk..kk..k kkkkkkkkk. kkk.kk.kkk kkkk"
];
var scaleBarSec = 5;

// ---------------- layout ----------------
var W = 1108, H = 1638;
var boxLeft = 101.7, boxRight = 504.5, boxH = 288, zeroInset = 11;
var pxPerSec = 18.8;
var stretch = 1.12;
var tickColour = { k: "#3a3a3a", r: "#f01c1c", g: "#22c222" };

var panels = [
  { mean: meanRegSingle, hi: hiRegSingle, lo: loRegSingle, raster: rasterRegSingle, code: "isi",
    top: 57.3, titleY: 38.3, yMax: 17.14, rowY0: 71, rowStep: 13.93, rastX: 536, rastSec: 30.2, barY: 350.7, labelY: 388.5 },
  { mean: meanIrrSingle, hi: hiIrrSingle, lo: loIrrSingle, raster: rasterIrrSingle, code: "isi",
    top: 465, titleY: 450, yMax: 9.26, rowY0: 476, rowStep: 14.0, rastX: 535, rastSec: 30.2, barY: 758, labelY: 793 },
  { mean: meanRegBursty, hi: hiRegBursty, lo: loRegBursty, raster: rasterRegBursty, code: "bin",
    top: 875, titleY: 854, yMax: 14.06, rowY0: 884, rowStep: 13.9, rastX: 537, rastSec: 30.2, barY: 1167.5, labelY: 1203 },
  { mean: meanIrrBursty, hi: hiIrrBursty, lo: loIrrBursty, raster: rasterIrrBursty, code: "bin",
    top: 1286.7, titleY: 1263, yMax: 12.42, rowY0: 1299.3, rowStep: 14.15, rastX: 530, rastSec: 30.6, barY: 1587.3, labelY: 1625 }
];

function parseIsi(str, maxT) {
  var out = [], t = 0;
  for (var ch of str) {
    if (ch === " ") continue;
    if (ch === "r" || ch === "g") { if (out.length) out[out.length - 1].c = ch; continue; }
    t += parseInt(ch, 16) * isiUnit;
    if (t < maxT) out.push({ t: t, c: "k" });
  }
  return out;
}
function parseBins(str, maxT) {
  var out = [], i = 0;
  for (var ch of str) {
    if (ch === " ") continue;
    var t = (i + 0.5) * binWidth;
    if (ch !== "." && t < maxT) out.push({ t: t, c: ch });
    i++;
  }
  return out;
}

var svg = d3.select("body").append("svg").attr("width", W).attr("height", H);
svg.append("rect").attr("width", W).attr("height", H).attr("fill", "#fff");

var x = d3.scaleLinear().domain([0, 2]).range([115.2, 495.6]);

panels.forEach(function (p, pi) {
  var bottom = p.top + boxH;
  var y = d3.scaleLinear().domain([0, p.yMax]).range([bottom - zeroInset, p.top]);
  var g = svg.append("g");
  var idx = d3.range(p.mean.length);

  // title
  svg.append("text")
    .attr("transform", "translate(558," + p.titleY + ") scale(" + stretch + ",1)")
    .attr("text-anchor", "middle")
    .style("font-size", "32.5px")
    .text(titles[pi]);

  // grey spread of individual cells
  g.append("path")
    .datum(idx)
    .attr("d", d3.area().x(function (i) { return x(i * delayStep); })
      .y0(function (i) { return y(p.lo[i]); })
      .y1(function (i) { return y(p.hi[i]); }))
    .attr("fill", "#efefef");
  g.selectAll("line.streak").data(idx).enter().append("line")
    .attr("class", "streak")
    .attr("x1", function (i) { return x(i * delayStep); })
    .attr("x2", function (i) { return x(i * delayStep); })
    .attr("y1", function (i) { return y(p.lo[i]); })
    .attr("y2", function (i) { return y(p.hi[i]); })
    .attr("stroke", "#c6c6c6").attr("stroke-width", 1.1).attr("opacity", 0.8);

  // mean curve
  g.append("path")
    .datum(p.mean)
    .attr("d", d3.line().x(function (d, i) { return x(i * delayStep); }).y(function (d) { return y(d); }))
    .attr("fill", "none").attr("stroke", "#ea1f25").attr("stroke-width", 1.8);

  // frame
  g.append("rect")
    .attr("x", boxLeft).attr("y", p.top)
    .attr("width", boxRight - boxLeft).attr("height", boxH)
    .attr("fill", "none").attr("stroke", "#2b2b2b").attr("stroke-width", 1.4);

  // y axis
  var ya = g.append("g").attr("transform", "translate(" + boxLeft + ",0)")
    .call(d3.axisLeft(y).tickValues(yTickValues[pi]).tickSize(12).tickSizeOuter(0));
  ya.select(".domain").remove();
  ya.selectAll("line").attr("stroke", "#2b2b2b").attr("stroke-width", 1.4);
  ya.selectAll("text")
    .attr("x", 0)
    .attr("transform", "translate(-16.7,0) scale(" + stretch + ",1)")
    .style("font-size", "20.5px").style("font-family", "Liberation Sans, Arial, sans-serif").attr("fill", "#1a1a1a");

  // x axis
  var xa = g.append("g").attr("transform", "translate(0," + bottom + ")")
    .call(d3.axisBottom(x).tickValues(xTickValues).tickFormat(d3.format("d")).tickSize(11).tickSizeOuter(0));
  xa.select(".domain").remove();
  xa.selectAll("line").attr("stroke", "#2b2b2b").attr("stroke-width", 1.4);
  xa.selectAll("text")
    .attr("y", 0).attr("dy", null)
    .attr("transform", "translate(0,36) scale(" + stretch + ",1)")
    .style("font-size", "21.5px").style("font-family", "Liberation Sans, Arial, sans-serif").attr("fill", "#1a1a1a");

  // axis titles
  g.append("text")
    .attr("transform", "translate(" + x(1) + "," + (bottom + 60) + ") scale(" + stretch + ",1)")
    .attr("text-anchor", "middle").style("font-size", "23.3px")
    .text("Delay (s)");
  g.append("text")
    .attr("transform", "translate(33.3," + (p.top + boxH / 2) + ") rotate(-90) scale(1," + stretch + ")")
    .attr("text-anchor", "middle").style("font-size", "23.5px")
    .text("Probability ( % )");

  // raster
  var rx = d3.scaleLinear().domain([0, p.rastSec]).range([p.rastX, p.rastX + p.rastSec * pxPerSec]);
  var ry = d3.scaleLinear().domain([0, 1]).range([p.rowY0, p.rowY0 + p.rowStep]);
  var spikes = [];
  p.raster.forEach(function (row, ri) {
    var list = p.code === "isi" ? parseIsi(row, p.rastSec) : parseBins(row, p.rastSec);
    list.forEach(function (s) { s.row = ri; spikes.push(s); });
  });
  var sw = p.code === "isi" ? 1.25 : 2.4;
  g.append("g").selectAll("line").data(spikes).enter().append("line")
    .attr("x1", function (d) { return rx(d.t); })
    .attr("x2", function (d) { return rx(d.t); })
    .attr("y1", function (d) { return ry(d.row) - 4.3; })
    .attr("y2", function (d) { return ry(d.row) + 4.3; })
    .attr("stroke", function (d) { return tickColour[d.c]; })
    .attr("stroke-width", sw)
    .attr("opacity", p.code === "isi" ? 0.85 : 0.9);

  // scale bar
  var barLen = rx(scaleBarSec) - rx(0);
  var barRight = 1105.5;
  g.append("line")
    .attr("x1", barRight - barLen).attr("x2", barRight)
    .attr("y1", p.barY).attr("y2", p.barY)
    .attr("stroke", "#000").attr("stroke-width", 5);
  g.append("text")
    .attr("transform", "translate(" + (barRight - barLen / 2) + "," + p.labelY + ") scale(" + stretch + ",1)")
    .attr("text-anchor", "middle").style("font-size", "23.5px")
    .text(scaleBarSec + " s");
});
</script>
</body>
</html>
